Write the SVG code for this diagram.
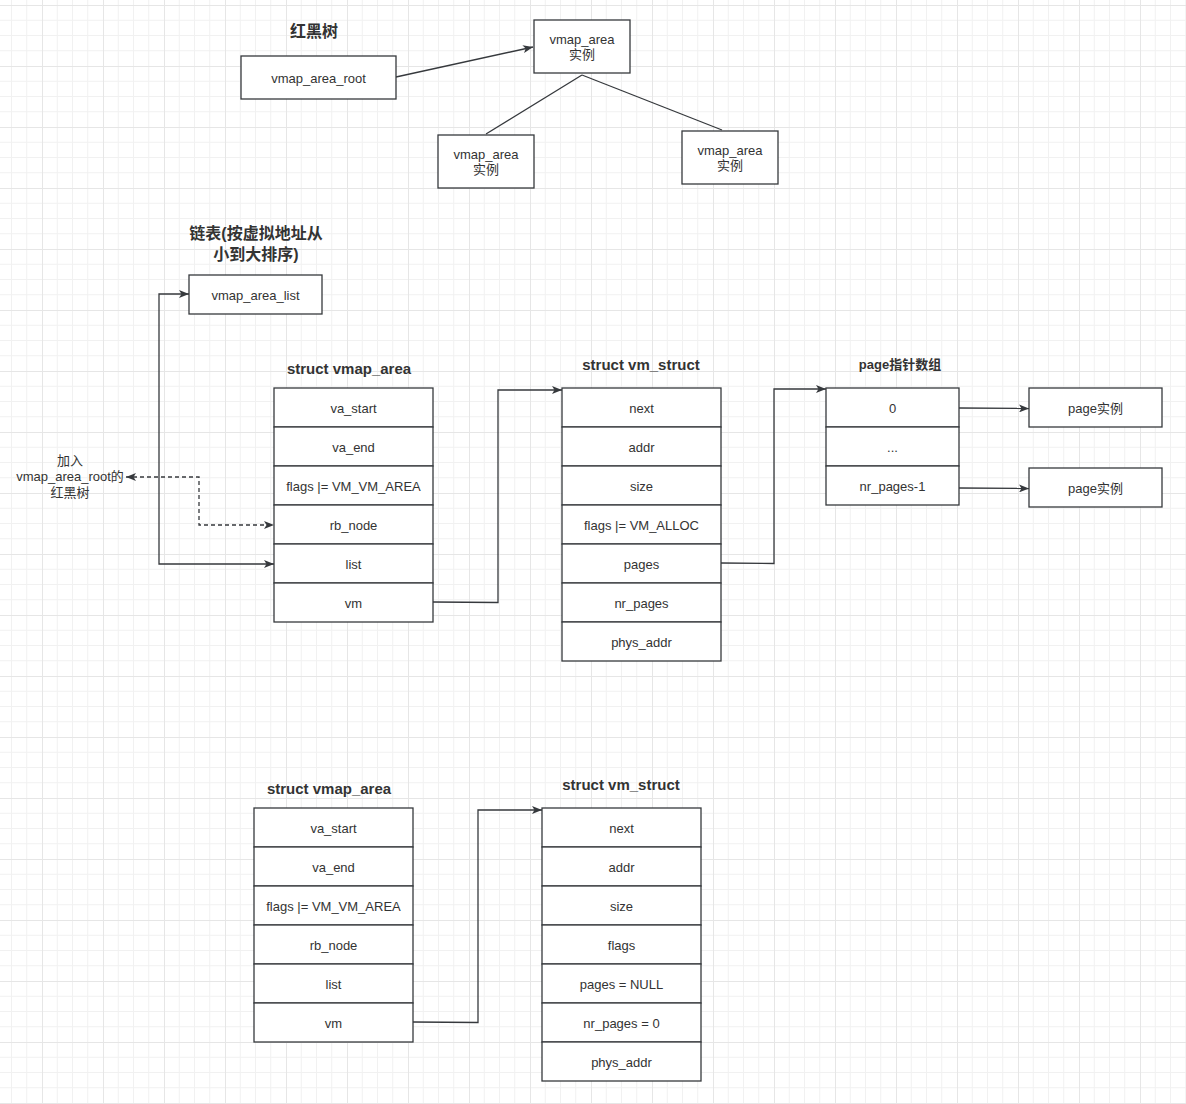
<svg xmlns="http://www.w3.org/2000/svg" width="1186" height="1104" viewBox="0 0 1186 1104">
<defs>
<pattern id="grid" x="42" y="5" width="61" height="61" patternUnits="userSpaceOnUse">
<path d="M15.25,0 V61 M30.5,0 V61 M45.75,0 V61 M0,15.25 H61 M0,30.5 H61 M0,45.75 H61" stroke="#f1f1f1" stroke-width="1" fill="none"/>
<path d="M0.5,0 V61 M0,0.5 H61" stroke="#e6e6e6" stroke-width="1" fill="none"/>
</pattern>
<marker id="ah" viewBox="0 0 10 8" refX="10" refY="4" markerWidth="10" markerHeight="8" orient="auto-start-reverse" markerUnits="userSpaceOnUse">
<path d="M0,0 L10,4 L0,8 L2.5,4 z" fill="#36393d"/>
</marker>
<style>
.b{fill:#fff;stroke:#36393d;stroke-width:1.3}
.t{font-family:"Liberation Sans","Noto Sans CJK SC",sans-serif;font-size:13px;fill:#333;text-anchor:middle;dominant-baseline:central}
.h{font-family:"Liberation Sans","Noto Sans CJK SC",sans-serif;font-weight:bold;fill:#333;text-anchor:middle;dominant-baseline:central}
.c{fill:none;stroke:#36393d;stroke-width:1.3}
.d{stroke-dasharray:4 3}
</style>
</defs>
<rect width="1186" height="1104" fill="#fff"/>
<rect width="1186" height="1104" fill="url(#grid)"/>

<g id="connectors">
<path class="c" d="M396,77 L533,47" marker-end="url(#ah)"/>
<path class="c" d="M582,75 L486,134"/>
<path class="c" d="M582,75 L722,130"/>
<path class="c" d="M189,294 L159,294 L159,564 L274,564" marker-start="url(#ah)" marker-end="url(#ah)"/>
<path class="c d" d="M126,477 L199,477 L199,525 L274,525" marker-start="url(#ah)" marker-end="url(#ah)"/>
<path class="c" d="M433,602 L498,602.5 L498,390 L562,390" marker-end="url(#ah)"/>
<path class="c" d="M721,563 L774,563.5 L774,389 L826,389" marker-end="url(#ah)"/>
<path class="c" d="M959,408 L1029,408.5" marker-end="url(#ah)"/>
<path class="c" d="M959,488 L1029,488.5" marker-end="url(#ah)"/>
<path class="c" d="M413,1022 L478,1022.5 L478,810 L542,810" marker-end="url(#ah)"/>
</g>

<g id="title-rbtree"><text class="h" x="314" y="31" font-size="16">红黑树</text></g>

<g id="vmap_area_root">
<rect class="b" x="241" y="56" width="155" height="43"/>
<text class="t" x="318.5" y="78">vmap_area_root</text>
</g>
<g id="rb-top">
<rect class="b" x="534" y="20" width="96" height="53"/>
<text class="t" x="582" y="39">vmap_area</text>
<text class="t" x="582" y="54">实例</text>
</g>
<g id="rb-left">
<rect class="b" x="438" y="135" width="96" height="53"/>
<text class="t" x="486" y="154">vmap_area</text>
<text class="t" x="486" y="169">实例</text>
</g>
<g id="rb-right">
<rect class="b" x="682" y="131" width="96" height="53"/>
<text class="t" x="730" y="150">vmap_area</text>
<text class="t" x="730" y="165">实例</text>
</g>

<g id="title-list">
<text class="h" x="256" y="233" font-size="16">链表(按虚拟地址从</text>
<text class="h" x="256" y="254" font-size="16">小到大排序)</text>
</g>
<g id="vmap_area_list">
<rect class="b" x="189" y="275" width="133" height="39"/>
<text class="t" x="255.5" y="295">vmap_area_list</text>
</g>

<g id="label-rb">
<text class="t" x="70" y="460">加入</text>
<text class="t" x="70" y="476">vmap_area_root的</text>
<text class="t" x="70" y="492">红黑树</text>
</g>

<g id="vmap_area-1">
<text class="h" x="349" y="368" font-size="15">struct vmap_area</text>
<rect class="b" x="274" y="388" width="159" height="39"/><text class="t" x="353.5" y="408">va_start</text>
<rect class="b" x="274" y="427" width="159" height="39"/><text class="t" x="353.5" y="447">va_end</text>
<rect class="b" x="274" y="466" width="159" height="39"/><text class="t" x="353.5" y="486">flags |= VM_VM_AREA</text>
<rect class="b" x="274" y="505" width="159" height="39"/><text class="t" x="353.5" y="525">rb_node</text>
<rect class="b" x="274" y="544" width="159" height="39"/><text class="t" x="353.5" y="564">list</text>
<rect class="b" x="274" y="583" width="159" height="39"/><text class="t" x="353.5" y="603">vm</text>
</g>

<g id="vm_struct-1">
<text class="h" x="641" y="364" font-size="15">struct vm_struct</text>
<rect class="b" x="562" y="388" width="159" height="39"/><text class="t" x="641.5" y="408">next</text>
<rect class="b" x="562" y="427" width="159" height="39"/><text class="t" x="641.5" y="447">addr</text>
<rect class="b" x="562" y="466" width="159" height="39"/><text class="t" x="641.5" y="486">size</text>
<rect class="b" x="562" y="505" width="159" height="39"/><text class="t" x="641.5" y="525">flags |= VM_ALLOC</text>
<rect class="b" x="562" y="544" width="159" height="39"/><text class="t" x="641.5" y="564">pages</text>
<rect class="b" x="562" y="583" width="159" height="39"/><text class="t" x="641.5" y="603">nr_pages</text>
<rect class="b" x="562" y="622" width="159" height="39"/><text class="t" x="641.5" y="642">phys_addr</text>
</g>

<g id="page-array">
<text class="h" x="900" y="364" font-size="13">page指针数组</text>
<rect class="b" x="826" y="388" width="133" height="39"/><text class="t" x="892.5" y="408">0</text>
<rect class="b" x="826" y="427" width="133" height="39"/><text class="t" x="892.5" y="447">...</text>
<rect class="b" x="826" y="466" width="133" height="39"/><text class="t" x="892.5" y="486">nr_pages-1</text>
</g>

<g id="page-1">
<rect class="b" x="1029" y="388" width="133" height="39"/>
<text class="t" x="1095.5" y="408">page实例</text>
</g>
<g id="page-2">
<rect class="b" x="1029" y="468" width="133" height="39"/>
<text class="t" x="1095.5" y="488">page实例</text>
</g>

<g id="vmap_area-2">
<text class="h" x="329" y="788" font-size="15">struct vmap_area</text>
<rect class="b" x="254" y="808" width="159" height="39"/><text class="t" x="333.5" y="828">va_start</text>
<rect class="b" x="254" y="847" width="159" height="39"/><text class="t" x="333.5" y="867">va_end</text>
<rect class="b" x="254" y="886" width="159" height="39"/><text class="t" x="333.5" y="906">flags |= VM_VM_AREA</text>
<rect class="b" x="254" y="925" width="159" height="39"/><text class="t" x="333.5" y="945">rb_node</text>
<rect class="b" x="254" y="964" width="159" height="39"/><text class="t" x="333.5" y="984">list</text>
<rect class="b" x="254" y="1003" width="159" height="39"/><text class="t" x="333.5" y="1023">vm</text>
</g>

<g id="vm_struct-2">
<text class="h" x="621" y="784" font-size="15">struct vm_struct</text>
<rect class="b" x="542" y="808" width="159" height="39"/><text class="t" x="621.5" y="828">next</text>
<rect class="b" x="542" y="847" width="159" height="39"/><text class="t" x="621.5" y="867">addr</text>
<rect class="b" x="542" y="886" width="159" height="39"/><text class="t" x="621.5" y="906">size</text>
<rect class="b" x="542" y="925" width="159" height="39"/><text class="t" x="621.5" y="945">flags</text>
<rect class="b" x="542" y="964" width="159" height="39"/><text class="t" x="621.5" y="984">pages = NULL</text>
<rect class="b" x="542" y="1003" width="159" height="39"/><text class="t" x="621.5" y="1023">nr_pages = 0</text>
<rect class="b" x="542" y="1042" width="159" height="39"/><text class="t" x="621.5" y="1062">phys_addr</text>
</g>
</svg>
